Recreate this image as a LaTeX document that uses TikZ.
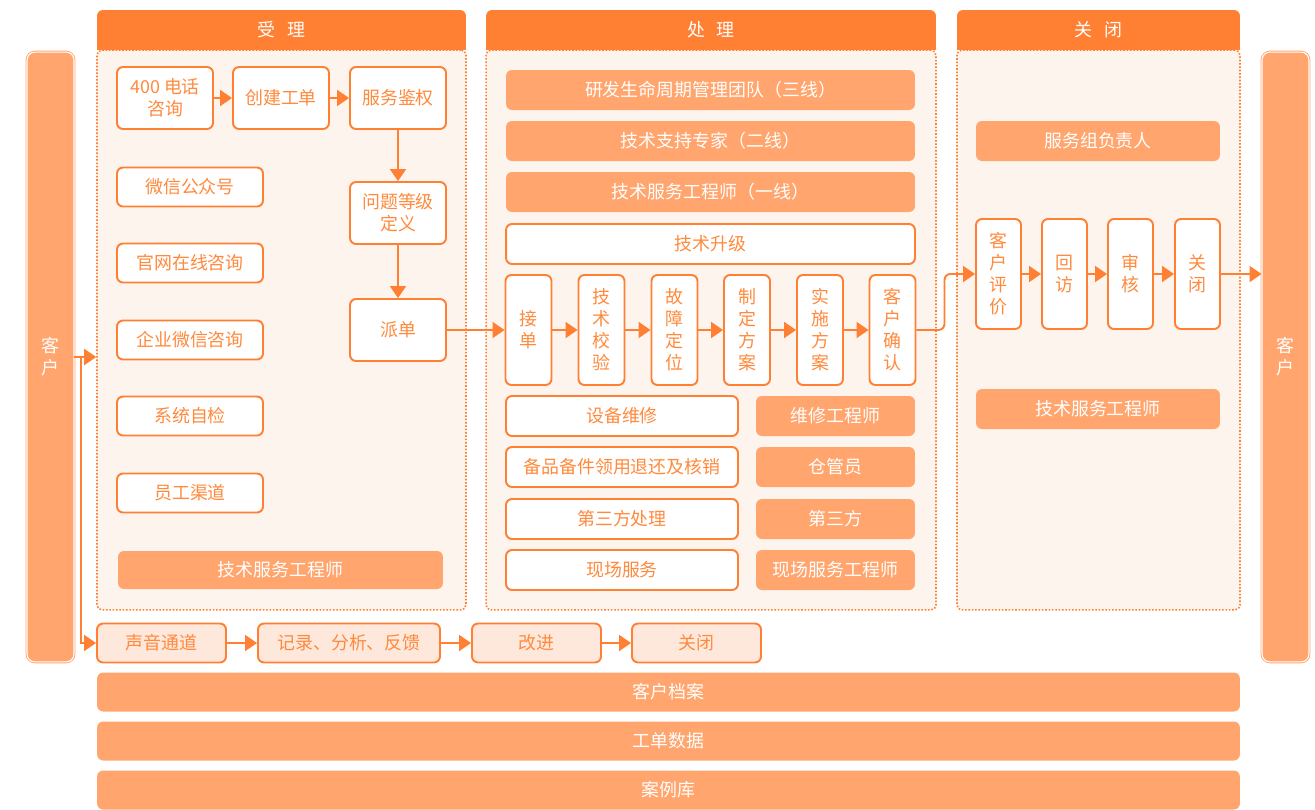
\documentclass[tikz,border=0pt]{standalone}
\usepackage{fontspec}
\setmainfont{Noto Sans CJK SC}
\usetikzlibrary{arrows.meta}
\definecolor{ora}{HTML}{FF8033}
\definecolor{lora}{HTML}{FFA56D}
\definecolor{lanebg}{HTML}{FEF4EE}
\definecolor{rowbg}{HTML}{FEE8DC}
\definecolor{txt}{HTML}{FF8A3D}
\tikzset{
  wbox/.style={draw=ora, line width=1.1pt, fill=white, text=txt, rounded corners=0.12cm,
    inner sep=0pt, align=center, font=\fontsize{10.2}{12.5}\selectfont},
  fbox/.style={fill=lora, text=white, rounded corners=0.12cm, inner sep=0pt,
    align=center, font=\fontsize{10.2}{12.5}\selectfont},
  rbox/.style={wbox, fill=rowbg, minimum height=0.78cm},
  vbox/.style={wbox, minimum width=0.92cm, minimum height=2.2cm},
  lbox/.style={wbox, minimum width=2.92cm, minimum height=0.78cm},
  cus/.style={fill=lora, draw=lora, double=white, double distance=0.6pt, line width=0.5pt,
    rounded corners=0.16cm, text=white, align=center, minimum width=0.94cm, minimum height=12.2cm,
    font=\fontsize{10.2}{12.5}\selectfont},
  lane/.style={draw=ora, densely dotted, line width=0.9pt, fill=lanebg, rounded corners=0.1cm},
  hdr/.style={fill=ora, text=white, rounded corners=0.12cm, minimum height=0.8cm,
    font=\fontsize{10.2}{12.5}\selectfont},
  arr/.style={draw=ora, line width=1.1pt, -{Triangle[length=0.24cm,width=0.32cm]}},
}
\begin{document}
\begin{tikzpicture}[x=0.02cm, y=-0.02cm]
  \useasboundingbox (0,0) rectangle (1315,809);

  % Lanes
  \node[lane, minimum width=7.38cm, minimum height=11.2cm] (laneA) at (281.5,330) {};
  \node[lane, minimum width=9.0cm, minimum height=11.2cm] (laneB) at (711,330) {};
  \node[lane, minimum width=5.66cm, minimum height=11.2cm] (laneC) at (1098.5,330) {};
  \fill[ora] (97,30) rectangle (466,50);
  \fill[ora] (486,30) rectangle (936,50);
  \fill[ora] (957,30) rectangle (1240,50);
  \node[hdr, minimum width=7.38cm] (hA) at (281.5,30) {受\hspace{0.24cm}理};
  \node[hdr, minimum width=9.0cm] (hB) at (711,30) {处\hspace{0.24cm}理};
  \node[hdr, minimum width=5.66cm] (hC) at (1098.5,30) {关\hspace{0.24cm}闭};

  % Customers
  \node[cus] (cusL) at (50.5,357) {客\\户};
  \node[cus] (cusR) at (1285.5,357) {客\\户};

  % Acceptance
  \node[wbox, minimum width=1.92cm, minimum height=1.24cm] (a1) at (165,98) {400 电话\\咨询};
  \node[wbox, minimum width=1.92cm, minimum height=1.24cm] (a2) at (281,98) {创建工单};
  \node[wbox, minimum width=1.92cm, minimum height=1.24cm] (a3) at (398,98) {服务鉴权};
  \node[wbox, minimum width=1.92cm, minimum height=1.24cm] (a4) at (398,213) {问题等级\\定义};
  \node[wbox, minimum width=1.92cm, minimum height=1.24cm] (a5) at (398,330) {派单};
  \node[lbox] (ch1) at (190,187) {微信公众号};
  \node[lbox] (ch2) at (190,263) {官网在线咨询};
  \node[lbox] (ch3) at (190,340) {企业微信咨询};
  \node[lbox] (ch4) at (190,416) {系统自检};
  \node[lbox] (ch5) at (190,493) {员工渠道};
  \node[fbox, minimum width=6.5cm, minimum height=0.76cm] (engA) at (280.5,570) {技术服务工程师};

  % Processing
  \node[fbox, minimum width=8.18cm, minimum height=0.8cm] (t1) at (710.5,90) {研发生命周期管理团队（三线）};
  \node[fbox, minimum width=8.18cm, minimum height=0.8cm] (t2) at (710.5,141) {技术支持专家（二线）};
  \node[fbox, minimum width=8.18cm, minimum height=0.8cm] (t3) at (710.5,192) {技术服务工程师（一线）};
  \node[wbox, minimum width=8.18cm, minimum height=0.8cm] (up) at (710.5,244) {技术升级};
  \node[vbox] (q1) at (528.5,330) {接\\单};
  \node[vbox] (q2) at (601.5,330) {技\\术\\校\\验};
  \node[vbox] (q3) at (674.5,330) {故\\障\\定\\位};
  \node[vbox] (q4) at (747,330) {制\\定\\方\\案};
  \node[vbox] (q5) at (820,330) {实\\施\\方\\案};
  \node[vbox] (q6) at (892.5,330) {客\\户\\确\\认};
  \node[wbox, minimum width=4.64cm, minimum height=0.8cm] (s1) at (622,416) {设备维修};
  \node[wbox, minimum width=4.64cm, minimum height=0.8cm] (s2) at (622,467) {备品备件领用退还及核销};
  \node[wbox, minimum width=4.64cm, minimum height=0.8cm] (s3) at (622,519) {第三方处理};
  \node[wbox, minimum width=4.64cm, minimum height=0.8cm] (s4) at (622,570) {现场服务};
  \node[fbox, minimum width=3.18cm, minimum height=0.8cm] (r1) at (835.5,416) {维修工程师};
  \node[fbox, minimum width=3.18cm, minimum height=0.8cm] (r2) at (835.5,467) {仓管员};
  \node[fbox, minimum width=3.18cm, minimum height=0.8cm] (r3) at (835.5,519) {第三方};
  \node[fbox, minimum width=3.18cm, minimum height=0.8cm] (r4) at (835.5,570) {现场服务工程师};

  % Closing
  \node[fbox, minimum width=4.88cm, minimum height=0.8cm] (lead) at (1098,141) {服务组负责人};
  \node[vbox, minimum width=0.9cm] (c1) at (998.5,274) {客\\户\\评\\价};
  \node[vbox, minimum width=0.9cm] (c2) at (1064.5,274) {回\\访};
  \node[vbox, minimum width=0.9cm] (c3) at (1130.5,274) {审\\核};
  \node[vbox, minimum width=0.9cm] (c4) at (1197.5,274) {关\\闭};
  \node[fbox, minimum width=4.88cm, minimum height=0.8cm] (engC) at (1098,409) {技术服务工程师};

  % Voice of customer
  \node[rbox, minimum width=2.58cm] (v1) at (161.5,643) {声音通道};
  \node[rbox, minimum width=3.64cm] (v2) at (349,643) {记录、分析、反馈};
  \node[rbox, minimum width=2.58cm] (v3) at (536.5,643) {改进};
  \node[rbox, minimum width=2.58cm] (v4) at (696.5,643) {关闭};

  % Data
  \node[fbox, minimum width=22.86cm, minimum height=0.78cm] (db1) at (668.5,692) {客户档案};
  \node[fbox, minimum width=22.86cm, minimum height=0.78cm] (db2) at (668.5,741) {工单数据};
  \node[fbox, minimum width=22.86cm, minimum height=0.78cm] (db3) at (668.5,790) {案例库};

  % Flow
  \draw[arr] (cusL.east) -- (laneA.west |- cusL.east);
  \coordinate (br) at (81,357);
  \draw[arr] (br) |- (v1.west);
  \draw[arr] (a1) -- (a2);
  \draw[arr] (a2) -- (a3);
  \draw[arr] (a3) -- (a4);
  \draw[arr] (a4) -- (a5);
  \draw[arr] (a5) -- (q1);
  \draw[arr] (q1) -- (q2);
  \draw[arr] (q2) -- (q3);
  \draw[arr] (q3) -- (q4);
  \draw[arr] (q4) -- (q5);
  \draw[arr] (q5) -- (q6);
  \draw[arr, rounded corners=0.12cm] (q6.east) -- ++(28,0) |- (c1.west);
  \draw[arr] (c1) -- (c2);
  \draw[arr] (c2) -- (c3);
  \draw[arr] (c3) -- (c4);
  \draw[arr] (c4.east) -- (c4.east -| cusR.west);
  \draw[arr] (v1) -- (v2);
  \draw[arr] (v2) -- (v3);
  \draw[arr] (v3) -- (v4);
\end{tikzpicture}
\end{document}
